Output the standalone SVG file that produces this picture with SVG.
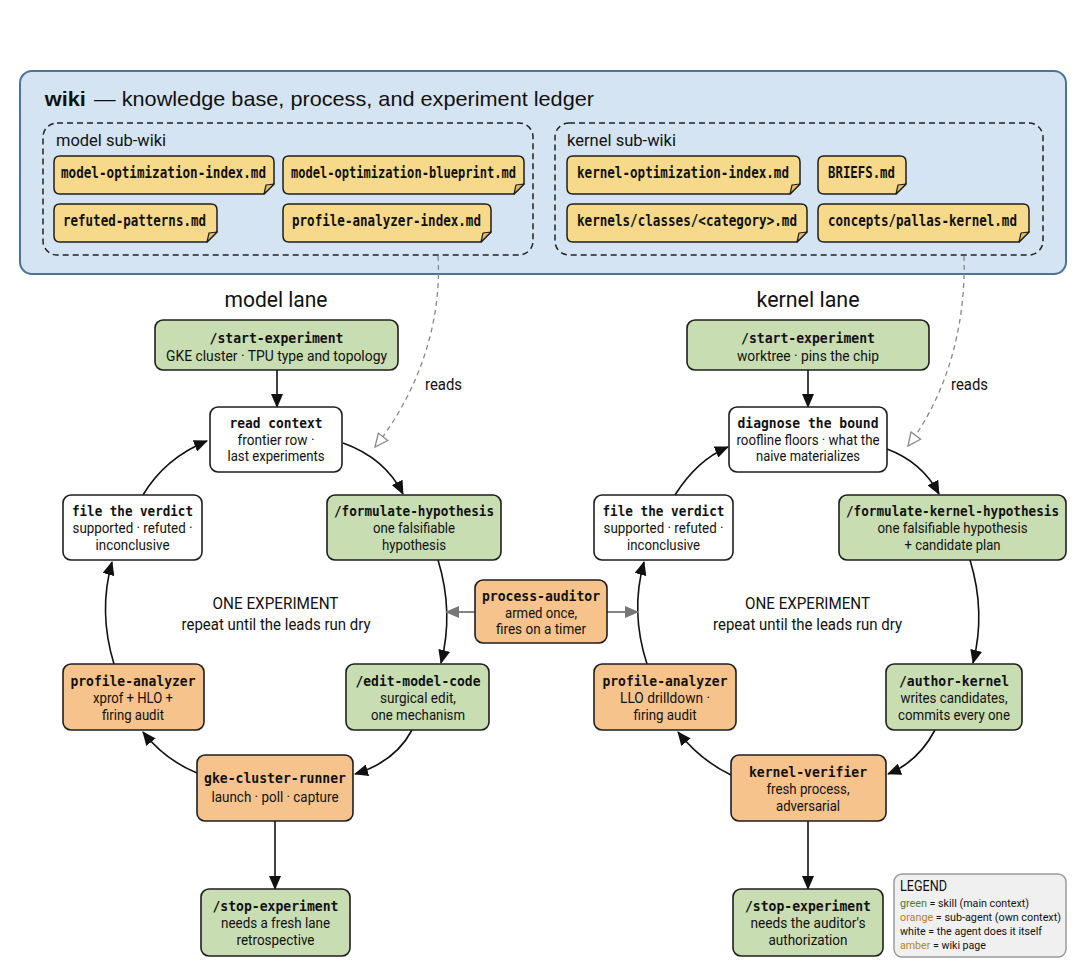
<svg xmlns="http://www.w3.org/2000/svg" width="1088" height="976" viewBox="0 0 1088 976">
<style>
.bg{fill:#ffffff}
.wiki{fill:#d5e4f2;stroke:#4d7396;stroke-width:2}
.sub{fill:none;stroke:#222;stroke-width:1.5;stroke-dasharray:6 4}
.doc{fill:#f7d98b;stroke:#1e1e1e;stroke-width:1.5}
.fold{fill:#e6c063;stroke:#1e1e1e;stroke-width:1.2;stroke-linejoin:round}
.g{fill:#c9ddb3;stroke:#1e1e1e;stroke-width:1.6}
.o{fill:#f7c38c;stroke:#1e1e1e;stroke-width:1.6}
.w{fill:#ffffff;stroke:#1e1e1e;stroke-width:1.6}
.leg{fill:#f0f0f0;stroke:#9a9a9a;stroke-width:1.5}
.mono{font-family:"DejaVu Sans Mono","Liberation Mono",monospace;font-weight:bold;font-size:14.5px;fill:#111}
.dm{font-family:"DejaVu Sans Mono","Liberation Mono",monospace;font-weight:bold;font-size:15px;fill:#111}
.t{font-family:"Liberation Sans Narrow","Roboto","Liberation Sans",sans-serif;font-size:14px;fill:#111}
.c{text-anchor:middle}
.lane{font-family:"Liberation Sans Narrow","Roboto","Liberation Sans",sans-serif;font-size:22px;fill:#111}
.lbl{font-family:"Liberation Sans Narrow","Roboto","Liberation Sans",sans-serif;font-size:17px;fill:#111}
.big{font-family:"Liberation Sans Narrow","Roboto","Liberation Sans",sans-serif;font-size:16.5px;fill:#111}
.title{font-family:"Liberation Sans","Roboto",sans-serif;font-size:21px;fill:#111}
.lh{font-family:"Liberation Sans Narrow","Roboto","Liberation Sans",sans-serif;font-size:14.5px;fill:#111}
.lt{font-family:"Liberation Sans Narrow","Roboto","Liberation Sans",sans-serif;font-size:11px;fill:#111}
.edge{fill:none;stroke:#111;stroke-width:1.6}
.gedge{fill:none;stroke:#777;stroke-width:1.8}
.dedge{fill:none;stroke:#888;stroke-width:1.3;stroke-dasharray:5 4}
</style>
<defs>
<marker id="ah" viewBox="0 0 14 12" refX="13" refY="6" markerWidth="14" markerHeight="12" markerUnits="userSpaceOnUse" orient="auto"><path d="M0,0 L14,6 L0,12 Z" fill="#111"/></marker>
<marker id="gh" viewBox="0 0 14 12" refX="13" refY="6" markerWidth="14" markerHeight="12" markerUnits="userSpaceOnUse" orient="auto"><path d="M0,0 L14,6 L0,12 Z" fill="#777"/></marker>
<marker id="oh" viewBox="0 0 16 14" refX="14" refY="7" markerWidth="16" markerHeight="14" markerUnits="userSpaceOnUse" orient="auto"><path d="M1,1 L14,7 L1,13 Z" fill="#fff" stroke="#888" stroke-width="1.3"/></marker>
</defs>
<rect class="bg" x="0" y="0" width="1088" height="976"/>

<g id="wiki">
<rect class="wiki" x="20" y="71" width="1046" height="203" rx="12"/>
<text class="title" x="44.8" y="106" font-weight="bold" textLength="41" lengthAdjust="spacingAndGlyphs">wiki</text>
<text class="title" x="94" y="106" textLength="500" lengthAdjust="spacingAndGlyphs">— knowledge base, process, and experiment ledger</text>
</g>

<g id="model-subwiki">
<rect class="sub" x="43" y="123" width="490" height="132" rx="14"/>
<text class="lbl" x="56" y="146" textLength="110" lengthAdjust="spacingAndGlyphs">model sub-wiki</text>
</g>
<g id="kernel-subwiki">
<rect class="sub" x="555" y="123" width="488" height="132" rx="14"/>
<text class="lbl" x="567" y="146" textLength="109" lengthAdjust="spacingAndGlyphs">kernel sub-wiki</text>
</g>

<g id="doc-model-optimization-index">
<path class="doc" d="M60,156 H268 Q274,156 274,162 V184 L264,194 H60 Q54,194 54,188 V162 Q54,156 60,156 Z"/>
<path class="fold" d="M274,184 L266,185 L264,194 Z"/>
<text class="dm" x="61" y="178" textLength="205" lengthAdjust="spacingAndGlyphs">model-optimization-index.md</text>
</g>
<g id="doc-model-optimization-blueprint">
<path class="doc" d="M289,156 H518 Q524,156 524,162 V184 L514,194 H289 Q283,194 283,188 V162 Q283,156 289,156 Z"/>
<path class="fold" d="M524,184 L516,185 L514,194 Z"/>
<text class="dm" x="291" y="178" textLength="225" lengthAdjust="spacingAndGlyphs">model-optimization-blueprint.md</text>
</g>
<g id="doc-refuted-patterns">
<path class="doc" d="M60,204 H211 Q217,204 217,210 V232 L207,242 H60 Q54,242 54,236 V210 Q54,204 60,204 Z"/>
<path class="fold" d="M217,232 L209,233 L207,242 Z"/>
<text class="dm" x="63" y="226" textLength="143" lengthAdjust="spacingAndGlyphs">refuted-patterns.md</text>
</g>
<g id="doc-profile-analyzer-index">
<path class="doc" d="M289,204 H485 Q491,204 491,210 V232 L481,242 H289 Q283,242 283,236 V210 Q283,204 289,204 Z"/>
<path class="fold" d="M491,232 L483,233 L481,242 Z"/>
<text class="dm" x="292" y="226" textLength="189" lengthAdjust="spacingAndGlyphs">profile-analyzer-index.md</text>
</g>
<g id="doc-kernel-optimization-index">
<path class="doc" d="M573,156 H794 Q800,156 800,162 V184 L790,194 H573 Q567,194 567,188 V162 Q567,156 573,156 Z"/>
<path class="fold" d="M800,184 L792,185 L790,194 Z"/>
<text class="dm" x="577" y="178" textLength="212" lengthAdjust="spacingAndGlyphs">kernel-optimization-index.md</text>
</g>
<g id="doc-briefs">
<path class="doc" d="M824,156 H900 Q906,156 906,162 V184 L896,194 H824 Q818,194 818,188 V162 Q818,156 824,156 Z"/>
<path class="fold" d="M906,184 L898,185 L896,194 Z"/>
<text class="dm" x="828" y="178" textLength="67" lengthAdjust="spacingAndGlyphs">BRIEFS.md</text>
</g>
<g id="doc-kernels-classes">
<path class="doc" d="M573,204 H801 Q807,204 807,210 V232 L797,242 H573 Q567,242 567,236 V210 Q567,204 573,204 Z"/>
<path class="fold" d="M807,232 L799,233 L797,242 Z"/>
<text class="dm" x="577" y="226" textLength="220" lengthAdjust="spacingAndGlyphs">kernels/classes/&lt;category&gt;.md</text>
</g>
<g id="doc-concepts-pallas-kernel">
<path class="doc" d="M824,204 H1023 Q1029,204 1029,210 V232 L1019,242 H824 Q818,242 818,236 V210 Q818,204 824,204 Z"/>
<path class="fold" d="M1029,232 L1021,233 L1019,242 Z"/>
<text class="dm" x="828" y="226" textLength="189" lengthAdjust="spacingAndGlyphs">concepts/pallas-kernel.md</text>
</g>

<g id="lane-titles">
<text class="lane c" x="276" y="307" textLength="103" lengthAdjust="spacingAndGlyphs">model lane</text>
<text class="lane c" x="808" y="307" textLength="103" lengthAdjust="spacingAndGlyphs">kernel lane</text>
</g>

<g id="loop-labels">
<text class="big c" x="275.5" y="609" textLength="126" lengthAdjust="spacingAndGlyphs">ONE EXPERIMENT</text>
<text class="big c" x="276" y="630" textLength="189" lengthAdjust="spacingAndGlyphs">repeat until the leads run dry</text>
<text class="big c" x="807.5" y="609" textLength="125" lengthAdjust="spacingAndGlyphs">ONE EXPERIMENT</text>
<text class="big c" x="807.5" y="630" textLength="189" lengthAdjust="spacingAndGlyphs">repeat until the leads run dry</text>
</g>

<g id="connectors">
<path class="dedge" d="M438,256 C442,320 420,390 375,447" marker-end="url(#oh)"/>
<path class="dedge" d="M964,256 C966,320 950,390 908,446" marker-end="url(#oh)"/>
<text class="big" x="425" y="390" textLength="37" lengthAdjust="spacingAndGlyphs">reads</text>
<text class="big" x="951" y="390" textLength="37" lengthAdjust="spacingAndGlyphs">reads</text>

<path class="edge" d="M277,370 V407" marker-end="url(#ah)"/>
<path class="edge" d="M343,443 Q385,458 403,494" marker-end="url(#ah)"/>
<path class="edge" d="M438,560 Q454,612 441,663" marker-end="url(#ah)"/>
<path class="edge" d="M412,730 Q395,762 355,774" marker-end="url(#ah)"/>
<path class="edge" d="M197,773 Q165,760 143,732" marker-end="url(#ah)"/>
<path class="edge" d="M114,664 Q98,612 112,562" marker-end="url(#ah)"/>
<path class="edge" d="M143,495 Q165,458 207,441" marker-end="url(#ah)"/>
<path class="edge" d="M275,821 V889" marker-end="url(#ah)"/>

<path class="edge" d="M808,370 V407" marker-end="url(#ah)"/>
<path class="edge" d="M887,449 Q922,462 939,494" marker-end="url(#ah)"/>
<path class="edge" d="M970,560 Q986,612 973,663" marker-end="url(#ah)"/>
<path class="edge" d="M935,730 Q918,762 888,774" marker-end="url(#ah)"/>
<path class="edge" d="M731,775 Q700,760 678,732" marker-end="url(#ah)"/>
<path class="edge" d="M647,664 Q630,612 644,562" marker-end="url(#ah)"/>
<path class="edge" d="M675,495 Q697,460 728,447" marker-end="url(#ah)"/>
<path class="edge" d="M808,821 V889" marker-end="url(#ah)"/>

<path class="gedge" d="M475,612 H446" marker-end="url(#gh)"/>
<path class="gedge" d="M607,612 H638" marker-end="url(#gh)"/>
</g>

<g id="m-start">
<rect class="g" x="155" y="320" width="243" height="50" rx="8"/>
<text class="mono c" x="276.5" y="343" textLength="134" lengthAdjust="spacingAndGlyphs">/start-experiment</text>
<text class="t c" x="276.5" y="361" textLength="221" lengthAdjust="spacingAndGlyphs">GKE cluster · TPU type and topology</text>
</g>
<g id="m-read-context">
<rect class="w" x="210" y="407" width="132" height="65" rx="8"/>
<text class="mono c" x="276" y="428" textLength="93" lengthAdjust="spacingAndGlyphs">read context</text>
<text class="t c" x="276" y="444.5" textLength="77" lengthAdjust="spacingAndGlyphs">frontier row ·</text>
<text class="t c" x="276" y="461" textLength="97" lengthAdjust="spacingAndGlyphs">last experiments</text>
</g>
<g id="m-formulate">
<rect class="g" x="327" y="495" width="174" height="65" rx="8"/>
<text class="mono c" x="414" y="516" textLength="160" lengthAdjust="spacingAndGlyphs">/formulate-hypothesis</text>
<text class="t c" x="414" y="533" textLength="82" lengthAdjust="spacingAndGlyphs">one falsifiable</text>
<text class="t c" x="414" y="549.5" textLength="64" lengthAdjust="spacingAndGlyphs">hypothesis</text>
</g>
<g id="m-verdict">
<rect class="w" x="63" y="495" width="139" height="65" rx="8"/>
<text class="mono c" x="132.5" y="516" textLength="121" lengthAdjust="spacingAndGlyphs">file the verdict</text>
<text class="t c" x="132.5" y="533" textLength="120" lengthAdjust="spacingAndGlyphs">supported · refuted ·</text>
<text class="t c" x="132.5" y="549.5" textLength="74" lengthAdjust="spacingAndGlyphs">inconclusive</text>
</g>
<g id="m-profile">
<rect class="o" x="63" y="664" width="141" height="66" rx="8"/>
<text class="mono c" x="133" y="686" textLength="125" lengthAdjust="spacingAndGlyphs">profile-analyzer</text>
<text class="t c" x="133" y="703" textLength="80" lengthAdjust="spacingAndGlyphs">xprof + HLO +</text>
<text class="t c" x="133" y="719.5" textLength="62" lengthAdjust="spacingAndGlyphs">firing audit</text>
</g>
<g id="m-edit">
<rect class="g" x="346" y="664" width="143" height="66" rx="8"/>
<text class="mono c" x="418" y="686" textLength="125" lengthAdjust="spacingAndGlyphs">/edit-model-code</text>
<text class="t c" x="418" y="703" textLength="76" lengthAdjust="spacingAndGlyphs">surgical edit,</text>
<text class="t c" x="418" y="719.5" textLength="94" lengthAdjust="spacingAndGlyphs">one mechanism</text>
</g>
<g id="process-auditor">
<rect class="o" x="475" y="580" width="132" height="63" rx="8"/>
<text class="mono c" x="541" y="601" textLength="118" lengthAdjust="spacingAndGlyphs">process-auditor</text>
<text class="t c" x="541" y="617.5" textLength="72" lengthAdjust="spacingAndGlyphs">armed once,</text>
<text class="t c" x="541" y="634" textLength="90" lengthAdjust="spacingAndGlyphs">fires on a timer</text>
</g>
<g id="m-gke">
<rect class="o" x="197" y="755" width="156" height="66" rx="8"/>
<text class="mono c" x="275" y="783" textLength="142" lengthAdjust="spacingAndGlyphs">gke-cluster-runner</text>
<text class="t c" x="275" y="802" textLength="127" lengthAdjust="spacingAndGlyphs">launch · poll · capture</text>
</g>
<g id="m-stop">
<rect class="g" x="201" y="889" width="149" height="67" rx="8"/>
<text class="mono c" x="275.5" y="911" textLength="126" lengthAdjust="spacingAndGlyphs">/stop-experiment</text>
<text class="t c" x="275.5" y="928" textLength="109" lengthAdjust="spacingAndGlyphs">needs a fresh lane</text>
<text class="t c" x="275.5" y="944.5" textLength="78" lengthAdjust="spacingAndGlyphs">retrospective</text>
</g>

<g id="k-start">
<rect class="g" x="687" y="320" width="242" height="50" rx="8"/>
<text class="mono c" x="808" y="343" textLength="134" lengthAdjust="spacingAndGlyphs">/start-experiment</text>
<text class="t c" x="808" y="361" textLength="142" lengthAdjust="spacingAndGlyphs">worktree · pins the chip</text>
</g>
<g id="k-diagnose">
<rect class="w" x="729" y="407" width="158" height="65" rx="8"/>
<text class="mono c" x="808" y="428" textLength="141" lengthAdjust="spacingAndGlyphs">diagnose the bound</text>
<text class="t c" x="808" y="444.5" textLength="143" lengthAdjust="spacingAndGlyphs">roofline floors · what the</text>
<text class="t c" x="808" y="461" textLength="104" lengthAdjust="spacingAndGlyphs">naive materializes</text>
</g>
<g id="k-formulate">
<rect class="g" x="839" y="495" width="227" height="65" rx="8"/>
<text class="mono c" x="952.5" y="516" style="font-size:13.5px" textLength="213" lengthAdjust="spacingAndGlyphs">/formulate-kernel-hypothesis</text>
<text class="t c" x="952.5" y="533" textLength="150" lengthAdjust="spacingAndGlyphs">one falsifiable hypothesis</text>
<text class="t c" x="952.5" y="549.5" textLength="96" lengthAdjust="spacingAndGlyphs">+ candidate plan</text>
</g>
<g id="k-verdict">
<rect class="w" x="594" y="495" width="139" height="65" rx="8"/>
<text class="mono c" x="663.5" y="516" textLength="122" lengthAdjust="spacingAndGlyphs">file the verdict</text>
<text class="t c" x="663.5" y="533" textLength="120" lengthAdjust="spacingAndGlyphs">supported · refuted ·</text>
<text class="t c" x="663.5" y="549.5" textLength="73" lengthAdjust="spacingAndGlyphs">inconclusive</text>
</g>
<g id="k-profile">
<rect class="o" x="594" y="664" width="142" height="66" rx="8"/>
<text class="mono c" x="665" y="686" textLength="125" lengthAdjust="spacingAndGlyphs">profile-analyzer</text>
<text class="t c" x="665" y="703" textLength="90" lengthAdjust="spacingAndGlyphs">LLO drilldown ·</text>
<text class="t c" x="665" y="719.5" textLength="63" lengthAdjust="spacingAndGlyphs">firing audit</text>
</g>
<g id="k-author">
<rect class="g" x="886" y="664" width="136" height="66" rx="8"/>
<text class="mono c" x="954" y="686" textLength="110" lengthAdjust="spacingAndGlyphs">/author-kernel</text>
<text class="t c" x="954" y="703" textLength="107" lengthAdjust="spacingAndGlyphs">writes candidates,</text>
<text class="t c" x="954" y="719.5" textLength="112" lengthAdjust="spacingAndGlyphs">commits every one</text>
</g>
<g id="k-verifier">
<rect class="o" x="731" y="755" width="155" height="66" rx="8"/>
<text class="mono c" x="808" y="777" textLength="118" lengthAdjust="spacingAndGlyphs">kernel-verifier</text>
<text class="t c" x="808" y="794" textLength="83" lengthAdjust="spacingAndGlyphs">fresh process,</text>
<text class="t c" x="808" y="810.5" textLength="64" lengthAdjust="spacingAndGlyphs">adversarial</text>
</g>
<g id="k-stop">
<rect class="g" x="733" y="889" width="150" height="67" rx="8"/>
<text class="mono c" x="808" y="911" textLength="126" lengthAdjust="spacingAndGlyphs">/stop-experiment</text>
<text class="t c" x="808" y="928" textLength="115" lengthAdjust="spacingAndGlyphs">needs the auditor's</text>
<text class="t c" x="808" y="944.5" textLength="79" lengthAdjust="spacingAndGlyphs">authorization</text>
</g>

<g id="legend">
<rect class="leg" x="894" y="874" width="172" height="83" rx="8"/>
<text class="lh" x="900" y="891" textLength="47" lengthAdjust="spacingAndGlyphs">LEGEND</text>
<text class="lt" x="900" y="906.5" textLength="129" lengthAdjust="spacingAndGlyphs"><tspan fill="#3f7f3a">green</tspan> = skill (main context)</text>
<text class="lt" x="900" y="920.5" textLength="161" lengthAdjust="spacingAndGlyphs"><tspan fill="#c0782c">orange</tspan> = sub-agent (own context)</text>
<text class="lt" x="900" y="934.5" textLength="142" lengthAdjust="spacingAndGlyphs">white = the agent does it itself</text>
<text class="lt" x="900" y="948.5" textLength="86" lengthAdjust="spacingAndGlyphs"><tspan fill="#b5862c">amber</tspan> = wiki page</text>
</g>
</svg>
